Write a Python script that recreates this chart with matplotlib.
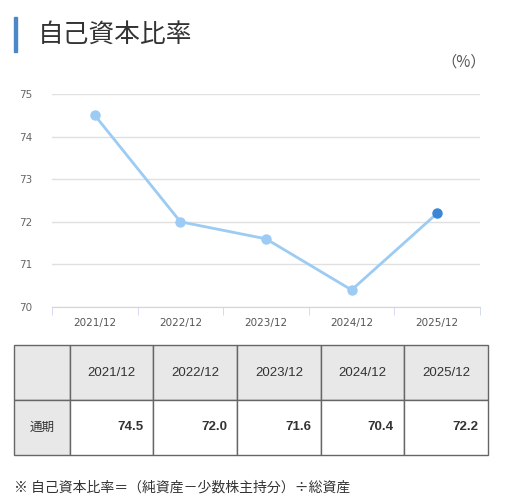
import matplotlib
matplotlib.use("Agg")
import matplotlib.pyplot as plt
from matplotlib.patches import Rectangle

plt.rcParams['font.family'] = ['Noto Sans CJK JP', 'DejaVu Sans']

periods = ['2021/12', '2022/12', '2023/12', '2024/12', '2025/12']
ratio = [74.5, 72.0, 71.6, 70.4, 72.2]
row_label = '通期'
title = '自己資本比率'
unit = '（%）'
note = '※ 自己資本比率＝（純資産－少数株主持分）÷総資産'

W, H = 514, 501
fig = plt.figure(figsize=(W / 100, H / 100), dpi=100)

# title with blue bar
fig.patches.append(Rectangle((14 / W, 1 - 52 / H), 3 / W, 35 / H,
                             transform=fig.transFigure, color='#4a88c7'))
fig.text(38 / W, 1 - 35 / H, title, fontsize=18.5, color='#333333', va='center')
fig.text(486 / W, 1 - 62 / H, unit, fontsize=11, color='#555555', va='center', ha='right')

# line chart
ax = fig.add_axes([52 / W, 1 - 307 / H, 428 / W, 213 / H])
x = list(range(len(periods)))
ax.plot(x, ratio, color='#9ccbf3', lw=2, zorder=3)
ax.plot(x[:-1], ratio[:-1], 'o', color='#9ccbf3', ms=6.5, zorder=4)
ax.plot(x[-1:], ratio[-1:], 'o', color='#3a87d6', ms=6.5, zorder=4)
ax.set_xlim(-0.5, len(periods) - 0.5)
ax.set_ylim(70, 75)
ax.set_yticks(range(70, 76))
ax.set_xticks(x)
ax.set_xticklabels(periods)
ax.set_xticks([i - 0.5 for i in range(len(periods) + 1)], minor=True)
ax.grid(axis='y', color='#e0e0e0', lw=1)
for s in ['top', 'right', 'left']:
    ax.spines[s].set_visible(False)
ax.spines['bottom'].set_color('#ccd6eb')
ax.tick_params(axis='y', length=0, pad=14, labelsize=7.5, labelcolor='#666666')
ax.tick_params(axis='x', which='major', length=0, pad=8, labelsize=7.5, labelcolor='#555555')
ax.tick_params(axis='x', which='minor', length=6, color='#ccd6eb', direction='out')
for lab in ax.get_xticklabels():
    lab.set_fontfamily(['DejaVu Sans'])
for lab in ax.get_yticklabels():
    lab.set_fontfamily(['DejaVu Sans'])

# table
tx = fig.add_axes([0, 0, 1, 1])
tx.set_xlim(0, W)
tx.set_ylim(H, 0)
tx.axis('off')
col_edges = [14, 70, 153, 237, 321, 404, 488]
rows = [345, 400, 455]
edge = '#666666'
for r in range(2):
    for c in range(len(col_edges) - 1):
        x0, x1 = col_edges[c], col_edges[c + 1]
        y0, y1 = rows[r], rows[r + 1]
        bg = '#e8e8e8' if (r == 0 or c == 0) else 'white'
        tx.add_patch(Rectangle((x0, y0), x1 - x0, y1 - y0, facecolor=bg,
                               edgecolor=edge, lw=1))
        ym = (y0 + y1) / 2
        if r == 0 and c > 0:
            tx.text((x0 + x1) / 2, ym, periods[c - 1], ha='center', va='center',
                    fontsize=9.5, color='#333333', family=['Liberation Sans'])
        elif r == 1 and c == 0:
            tx.text((x0 + x1) / 2, ym, row_label, ha='center', va='center',
                    fontsize=9, color='#333333')
        elif r == 1:
            tx.text(x1 - 10, ym, f'{ratio[c - 1]:.1f}', ha='right', va='center',
                    fontsize=9.5, color='#333333', fontweight='bold',
                    family=['Liberation Sans'])

fig.text(14 / W, 1 - 488 / H, note, fontsize=10, color='#333333', va='center')

fig.savefig('out.png', dpi=100)
